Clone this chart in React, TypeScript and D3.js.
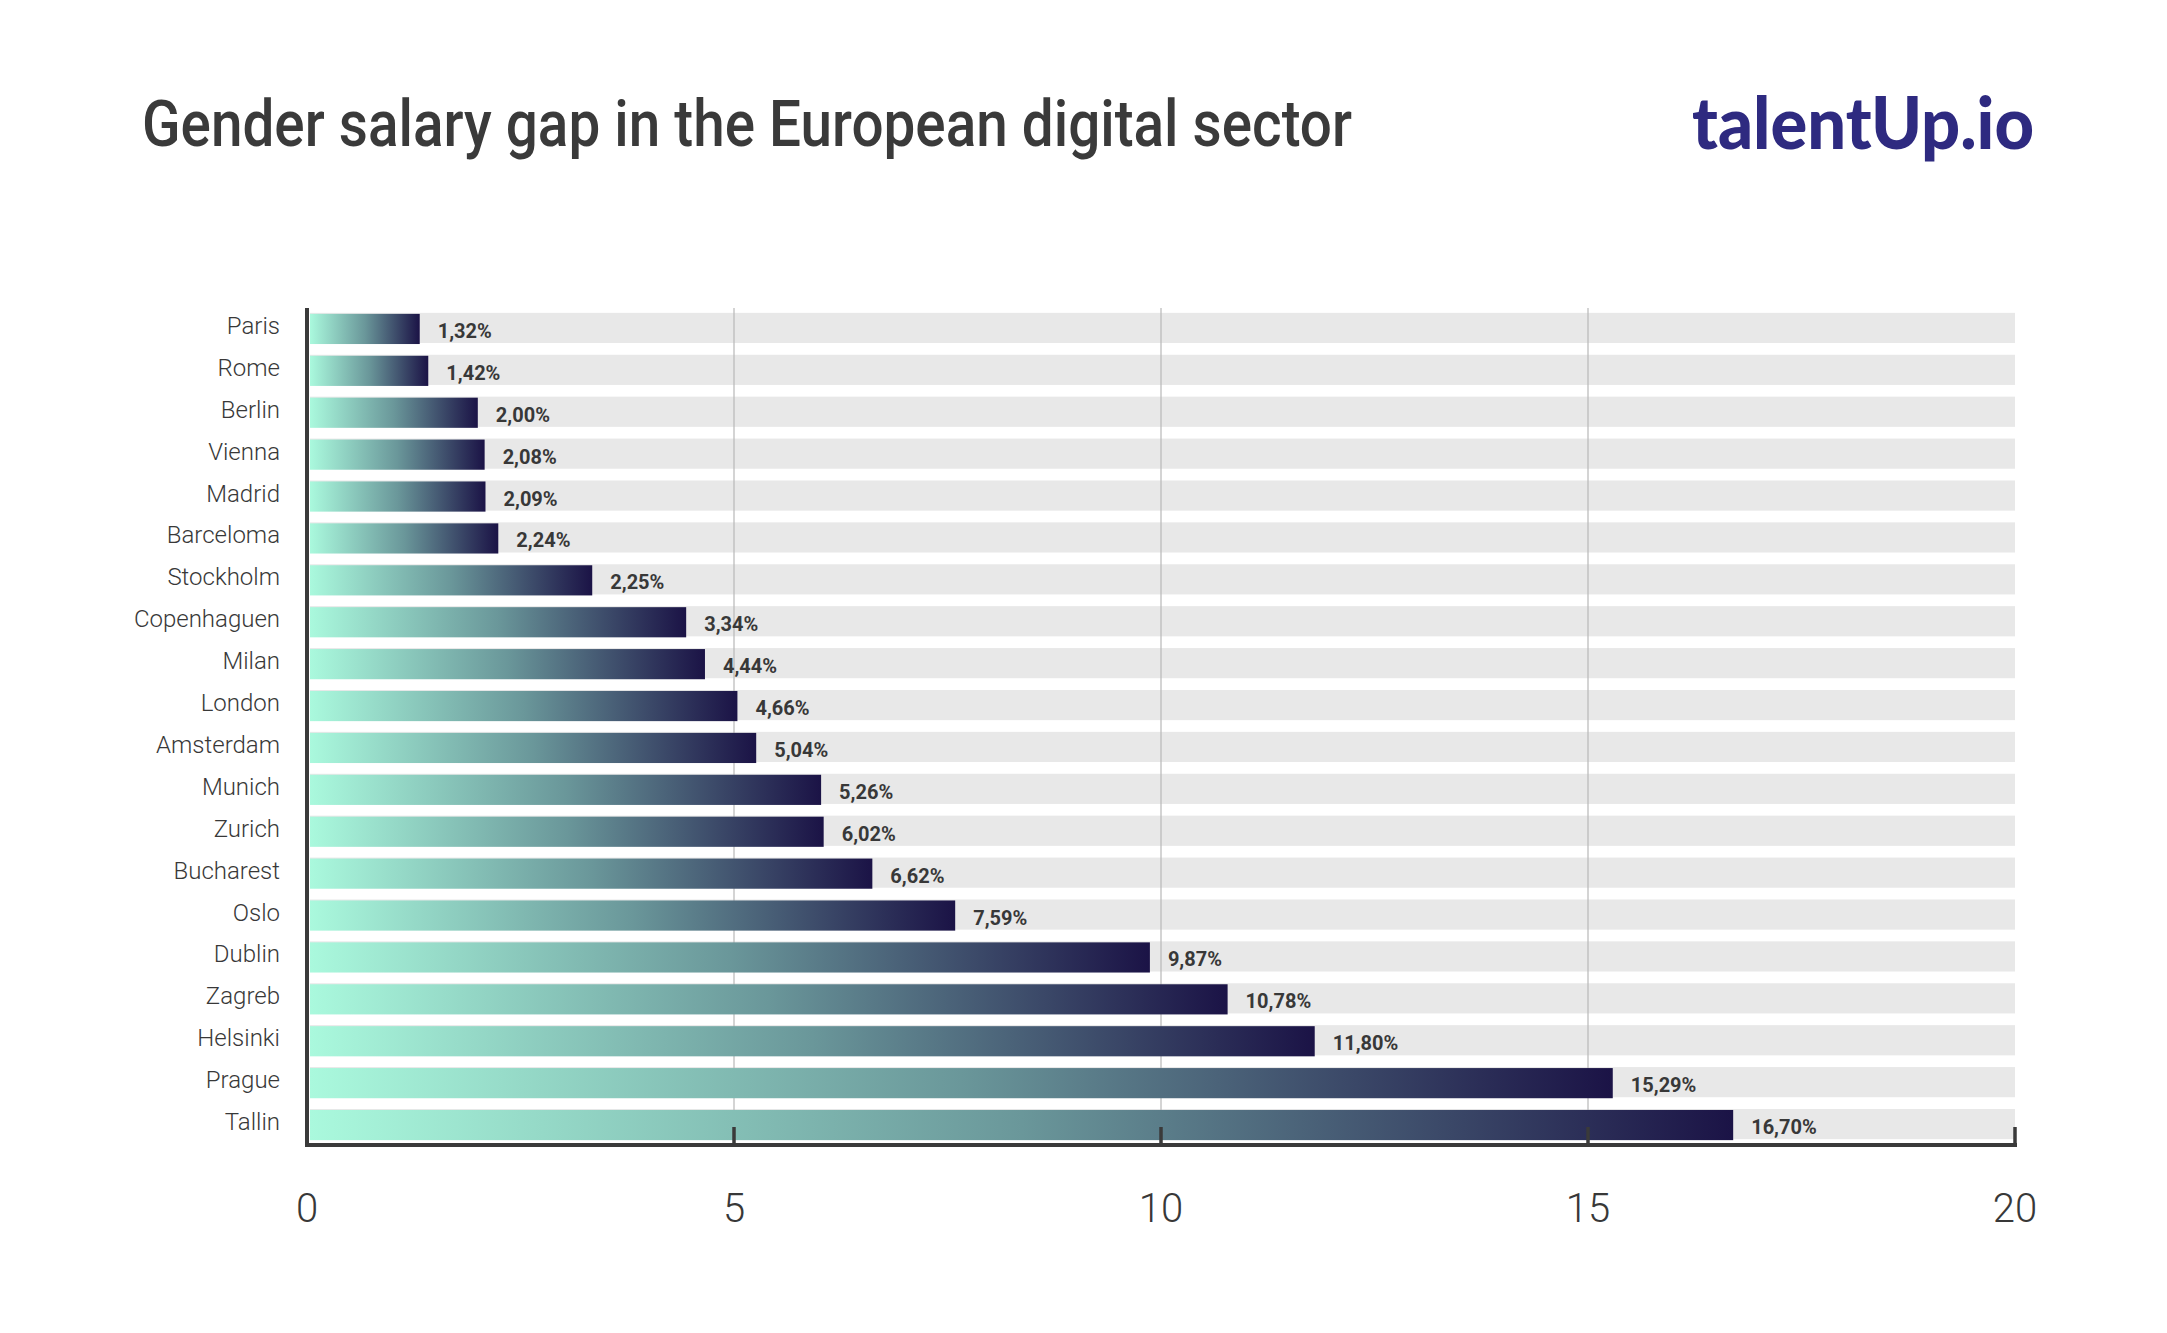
import React from "react";
import * as d3 from "d3";

const cities = ["Paris","Rome","Berlin","Vienna","Madrid","Barceloma","Stockholm","Copenhaguen","Milan","London","Amsterdam","Munich","Zurich","Bucharest","Oslo","Dublin","Zagreb","Helsinki","Prague","Tallin"];
const barValues = [1.32,1.42,2.0,2.08,2.09,2.24,3.34,4.44,4.66,5.04,5.26,6.02,6.05,6.62,7.59,9.87,10.78,11.8,15.29,16.7];
const valueLabels = ["1,32%","1,42%","2,00%","2,08%","2,09%","2,24%","2,25%","3,34%","4,44%","4,66%","5,04%","5,26%","6,02%","6,62%","7,59%","9,87%","10,78%","11,80%","15,29%","16,70%"];
const ticks = [0, 5, 10, 15, 20];
const gridTicks = [5, 10, 15];
const title = "Gender salary gap in the European digital sector";

const W = 2167, H = 1333;
const TXT = "#383838";

export default function App() {
  const x = d3.scaleLinear().domain([0, 20]).range([307, 2015]);
  const y = d3.scaleBand<string>().domain(cities).range([308, 1146]).paddingInner(0.28).paddingOuter(0.14);
  const bw = y.bandwidth();
  const axisY = 1145;
  const barX0 = 310;
  return (
    <svg width={W} height={H} style={{ position: "absolute", left: 0, top: 0, background: "#fff" }}>
      <defs>
        <linearGradient id="barGrad" x1="0" x2="1" y1="0" y2="0">
          <stop offset="0" stopColor="#aaf9dd" />
          <stop offset="0.5" stopColor="#6a979a" />
          <stop offset="1" stopColor="#1b1346" />
        </linearGradient>
      </defs>
      <rect x={0} y={0} width={W} height={H} fill="#fff" />
      <text x={142} y={146} fontFamily="Roboto, 'Noto Sans', sans-serif" fontWeight={500} fontSize={64} fill="#3a3a3a" textLength={1210} lengthAdjust="spacingAndGlyphs">{title}</text>
      <g>
        <text x={1692} y={149} fontFamily="Lato, 'Noto Sans', sans-serif" fontWeight={900} fontSize={72} fill="#2e2a80" textLength={342} lengthAdjust="spacingAndGlyphs">talentUp.io</text>
      </g>
      {/* background bands */}
      {cities.map((c) => (
        <rect key={"bg" + c} x={barX0} y={(y(c) as number) - 1} width={x(20) - barX0} height={bw} fill="#e8e8e8" />
      ))}
      {/* gridlines */}
      {gridTicks.map((t) => (
        <line key={"g" + t} x1={x(t)} x2={x(t)} y1={308} y2={axisY} stroke="#b8b8b8" strokeWidth={1.2} />
      ))}
      {/* bars */}
      {cities.map((c, i) => (
        <rect key={"b" + c} x={barX0} y={y(c) as number} width={x(barValues[i]) - barX0} height={bw} fill="url(#barGrad)" />
      ))}
      {/* value labels */}
      {cities.map((c, i) => (
        <text key={"v" + c} x={x(barValues[i]) + 18} y={(y(c) as number) + bw / 2 + 9} fontFamily="Roboto, 'Noto Sans', sans-serif" fontWeight={700} fontSize={20} fill={TXT}>{valueLabels[i]}</text>
      ))}
      {/* category labels */}
      {cities.map((c) => (
        <text key={"c" + c} x={280} y={(y(c) as number) + bw / 2 + 5} textAnchor="end" fontFamily="Roboto, 'Noto Sans', sans-serif" fontWeight={300} fontSize={24} fill={TXT}>{c}</text>
      ))}
      {/* axes */}
      <line x1={307} x2={307} y1={308} y2={axisY + 2} stroke="#3a3a3a" strokeWidth={4} />
      <line x1={305} x2={x(20) + 2} y1={axisY} y2={axisY} stroke="#3a3a3a" strokeWidth={4} />
      {ticks.filter((t) => t > 0).map((t) => (
        <line key={"t" + t} x1={x(t)} x2={x(t)} y1={1127} y2={axisY} stroke="#3a3a3a" strokeWidth={3.5} />
      ))}
      {ticks.map((t) => (
        <text key={"tl" + t} x={x(t)} y={1222} textAnchor="middle" fontFamily="Roboto, 'Noto Sans', sans-serif" fontWeight={300} fontSize={40} fill={TXT}>{t}</text>
      ))}
    </svg>
  );
}
